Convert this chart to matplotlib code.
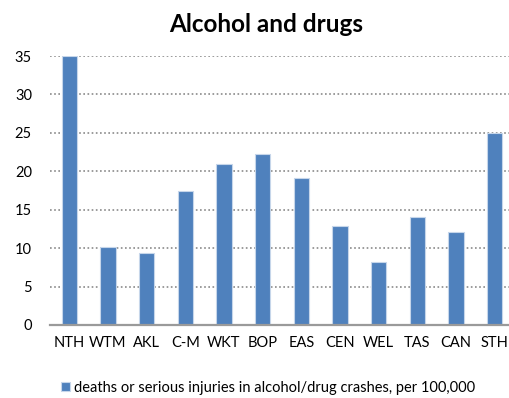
from matplotlib import pyplot as plt
import numpy as np

# BLOCK: data
regions = ["NTH", "WTM", "AKL", "C-M", "WKT", "BOP", "EAS", "CEN", "WEL", "TAS", "CAN", "STH"]
rates = [35.0, 10.1, 9.4, 17.5, 20.9, 22.2, 19.1, 12.9, 8.2, 14.1, 12.1, 25.0]
series_label = "deaths or serious injuries in alcohol/drug crashes, per 100,000"
y_ticks = [0, 5, 10, 15, 20, 25, 30, 35]

plt.rcParams['font.family'] = ['Lato', 'DejaVu Sans']

fig = plt.figure(figsize=(5.1, 3.98), dpi=100)
W, H = 510, 398
ax = fig.add_axes([50 / W, (H - 325) / H, (514 - 50) / W, (325 - 56) / H])

x = np.arange(len(regions))
ax.bar(x, rates, width=0.4, color="#4F81BD", edgecolor="#C6D6EA", linewidth=0.8,
       label=series_label, zorder=3)

ax.set_xlim(-0.5, len(regions) - 0.5)
ax.set_ylim(0, 35)
ax.set_yticks(y_ticks)
ax.set_xticks(x)
ax.set_xticklabels(regions)
ax.tick_params(axis="both", length=0, labelsize=10.5, colors="black")
ax.tick_params(axis="y", pad=13)
ax.tick_params(axis="x", pad=8)

ax.grid(axis="y", linestyle=(0, (1, 1.5)), color="#8a8a8a", linewidth=1.2, zorder=0)
for s in ["left", "right", "top"]:
  ax.spines[s].set_visible(False)
ax.spines["bottom"].set_color("#9a9a9a")
ax.spines["bottom"].set_linewidth(1.6)
ax.spines["bottom"].set_zorder(4)

fig.text(266 / W, 1 - 24 / H, "Alcohol and drugs", ha="center", va="center",
         fontsize=17.5, fontweight="bold")

fig.legend(loc="center", bbox_to_anchor=(268 / W, 1 - 388 / H), frameon=False,
           fontsize=10.5, handlelength=0.6, handleheight=0.6, handletextpad=0.3)

fig.savefig("out.png", dpi=100)
